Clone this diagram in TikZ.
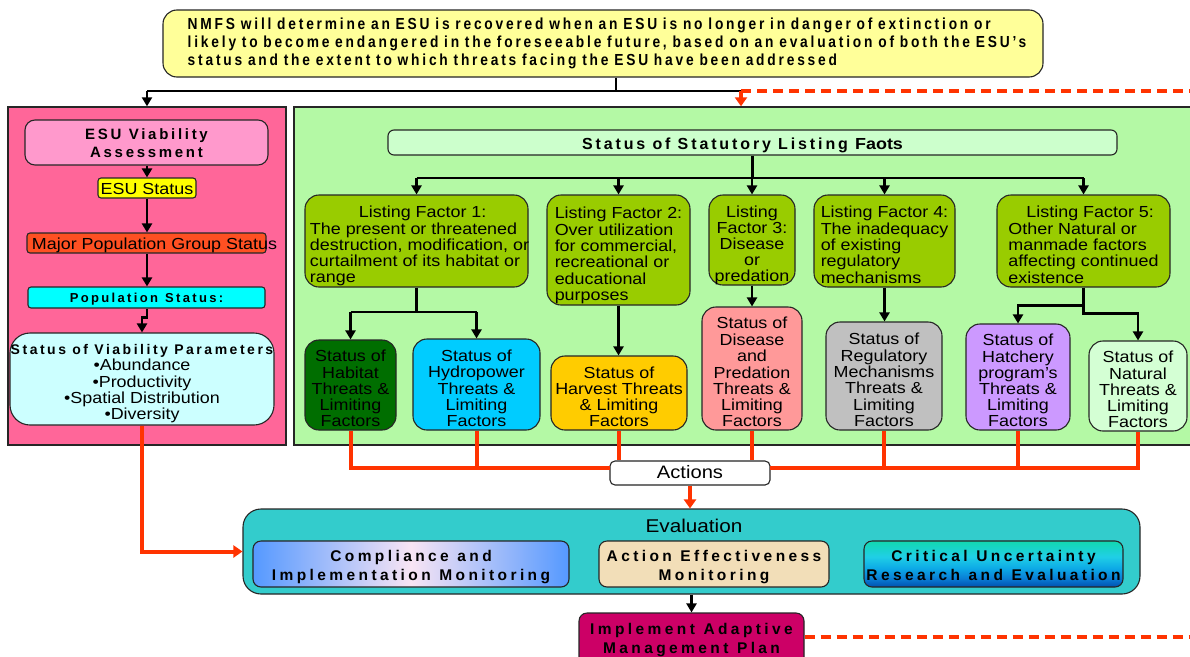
\documentclass[tikz,border=0pt]{standalone}
\usepackage{fontspec}
\setmainfont{Liberation Sans}[FakeStretch=1.12]
\newfontfamily\spcfont{Liberation Sans}[LetterSpace=18]
\newfontfamily\spwide{Liberation Sans}[LetterSpace=22]
\newfontfamily\topfont{Liberation Sans}[FakeStretch=0.86,LetterSpace=17.5]
\usetikzlibrary{arrows.meta}
\definecolor{topyellow}{HTML}{FFFF99}
\definecolor{pinkpanel}{HTML}{FF6699}
\definecolor{lpink}{HTML}{FF99CC}
\definecolor{esuyellow}{HTML}{FFFF00}
\definecolor{mpgred}{HTML}{FF5022}
\definecolor{popcyan}{HTML}{00FFFF}
\definecolor{lcyan}{HTML}{CCFFFF}
\definecolor{greenpanel}{HTML}{B4F9A5}
\definecolor{statgreen}{HTML}{CCFFCC}
\definecolor{lfgreen}{HTML}{99CC00}
\definecolor{habgreen}{HTML}{006E00}
\definecolor{hydroblue}{HTML}{00CCFF}
\definecolor{harvyellow}{HTML}{FFCC00}
\definecolor{dispink}{HTML}{FF9999}
\definecolor{reggray}{HTML}{C0C0C0}
\definecolor{hatpurple}{HTML}{CC99FF}
\definecolor{natgreen}{HTML}{D4FFD4}
\definecolor{redline}{HTML}{FF3300}
\definecolor{evalteal}{HTML}{33CCCC}
\definecolor{compblue}{HTML}{5599FF}
\definecolor{comppink}{HTML}{F8E4F4}
\definecolor{parch}{HTML}{F2DEB8}
\definecolor{curtop}{HTML}{12D8B0}
\definecolor{curmid}{HTML}{20CFE6}
\definecolor{curmid2}{HTML}{0CA8E6}
\definecolor{curmid3}{HTML}{0A80D6}
\definecolor{curbot}{HTML}{0050B0}
\definecolor{implmag}{HTML}{CC0066}
\pgfdeclareverticalshading{curshade}{100bp}{color(0bp)=(curbot); color(25bp)=(curbot); color(35bp)=(curmid3); color(45bp)=(curmid2); color(58bp)=(curmid); color(75bp)=(curtop); color(100bp)=(curtop)}
\newcommand\rg{\fontsize{16}{16}\selectfont}
\newcommand\tb[3][6pt]{\makebox[0pt]{\raisebox{-#1}[\height][\depth]{\begin{tabular}{@{}#2@{}}#3\end{tabular}}}}
\begin{document}
\begin{tikzpicture}[x=1pt,y=-1pt,
  bx/.style={draw=black!85, line width=1.1pt, rounded corners=#1, inner sep=0pt},
  bx/.default=12pt,
  panel/.style={draw=black!85, line width=1.4pt, inner sep=0pt},
  lf/.style={bx=14pt, fill=lfgreen, font=\rg},
  st/.style={bx=14pt, font=\rg},
  wide/.style={font={\spwide\bfseries\fontsize{15.5}{19}\selectfont\spaceskip=0.55em}},
  blk/.style={draw=black, line width=2.2pt},
  blkarrow/.style={blk, -{Triangle[length=9pt,width=10pt]}},
  redl/.style={draw=redline, line width=4pt},
  redarrow/.style={redl, -{Triangle[length=9pt,width=12pt]}},
  reddash/.style={draw=redline, line width=4pt, dash pattern=on 10pt off 6pt}
]
\useasboundingbox (0,0) rectangle (1190,656);
\fill[white] (0,0) rectangle (1190,656);

% top statement
\node[bx=14pt, fill=topyellow, minimum width=880pt, minimum height=67pt,
  font={\topfont\bfseries\fontsize{16}{18}\selectfont\spaceskip=0.36em}] (top) at (603,43.5)
  {\tb[0pt]{l}{\hspace*{8pt}NMFS will determine an ESU is recovered when an ESU is no longer in danger of extinction or\\\hspace*{8pt}likely to become endangered in the foreseeable future, based on an evaluation of both the ESU’s\\\hspace*{8pt}status and the extent to which threats facing the ESU have been addressed}};

% panels
\node[panel, fill=pinkpanel, minimum width=278pt, minimum height=338pt] (pink) at (147,276) {};
\node[panel, fill=greenpanel, minimum width=898pt, minimum height=338pt] (green) at (743,276) {};

% pink panel content
\node[bx=10pt, fill=lpink, minimum width=243pt, minimum height=45pt,
  font={\spcfont\bfseries\fontsize{15}{18}\selectfont\spaceskip=0.5em}] (esuva) at (146.5,142.5) {\tb[2.5pt]{c}{ESU Viability\\Assessment}};
\node[bx=3pt, fill=esuyellow, minimum width=98pt, minimum height=20pt, font=\rg] (esust) at (147,188) {\tb[3pt]{c}{ESU Status}};
\node[bx=3pt, fill=mpgred, minimum width=239pt, minimum height=20pt, font=\rg] (mpgs) at (146.5,243) {\tb[3pt]{c}{\hspace*{16pt}Major Population Group Status}};
\node[bx=3pt, fill=popcyan, minimum width=237pt, minimum height=21pt,
  font={\spcfont\bfseries\fontsize{13}{13}\selectfont\spaceskip=0.55em}] (pops) at (146.5,297.5) {\tb[2pt]{c}{Population Status:}};
\node[bx=20pt, fill=lcyan, minimum width=264pt, minimum height=92pt, font=\rg] (vparm) at (142,379)
  {\tb[5pt]{c}{{\spcfont\bfseries\fontsize{14}{16}\selectfont\spaceskip=0.45em Status of Viability Parameters}\\•Abundance\\•Productivity\\•Spatial Distribution\\•Diversity}};

% green panel content
\node[bx=6pt, fill=statgreen, minimum width=729pt, minimum height=25pt,
  font={\spcfont\bfseries\fontsize{16}{16}\selectfont\spaceskip=0.45em}] (stat) at (752.5,142.5)
  {\tb[4pt]{c}{\hspace*{-20pt}Status of Statutory Listing {\normalfont\bfseries\fontsize{16}{16}\selectfont Faots}}};

\node[lf, minimum width=223pt, minimum height=92pt] (lf1) at (416.5,241)
  {\tb{l}{\hspace*{55pt}Listing Factor 1:\\\hspace*{6pt}The present or threatened\\\hspace*{6pt}destruction, modification, or\\\hspace*{6pt}curtailment of its habitat or\\\hspace*{6pt}range}};
\node[lf, minimum width=143pt, minimum height=110pt] (lf2) at (618.5,250)
  {\tb{l}{Listing Factor 2:\\Over utilization\\for commercial,\\recreational or\\educational\\purposes}};
\node[lf, minimum width=86pt, minimum height=90pt] (lf3) at (752,240)
  {\tb{c}{Listing\\Factor 3:\\Disease\\or\\predation}};
\node[lf, minimum width=141pt, minimum height=92pt] (lf4) at (884.5,241)
  {\tb{l}{Listing Factor 4:\\The inadequacy\\of existing\\regulatory\\mechanisms}};
\node[lf, minimum width=173pt, minimum height=92pt] (lf5) at (1083.5,241)
  {\tb{l}{\hspace*{18pt}Listing Factor 5:\\Other Natural or\\manmade factors\\affecting continued\\existence}};

\node[st, fill=habgreen, minimum width=91pt, minimum height=90pt] (habitat) at (350.5,385)
  {\tb{c}{Status of\\Habitat\\Threats \&\\Limiting\\Factors}};
\node[st, fill=hydroblue, minimum width=127pt, minimum height=91pt] (hydro) at (476.5,384.5)
  {\tb{c}{Status of\\Hydropower\\Threats \&\\Limiting\\Factors}};
\node[st, fill=harvyellow, minimum width=136pt, minimum height=74pt] (harvest) at (619,393)
  {\tb{c}{Status of\\Harvest Threats\\\& Limiting\\Factors}};
\node[st, fill=dispink, minimum width=100pt, minimum height=123pt] (disease) at (752,368.5)
  {\tb{c}{Status of\\Disease\\and\\Predation\\Threats \&\\Limiting\\Factors}};
\node[st, fill=reggray, minimum width=116pt, minimum height=108pt] (regul) at (884,376)
  {\tb{c}{Status of\\Regulatory\\Mechanisms\\Threats \&\\Limiting\\Factors}};
\node[st, fill=hatpurple, minimum width=104pt, minimum height=106pt] (hatch) at (1018,377)
  {\tb{c}{Status of\\Hatchery\\program’s\\Threats \&\\Limiting\\Factors}};
\node[st, fill=natgreen, minimum width=98pt, minimum height=90pt] (natural) at (1138,386)
  {\tb{c}{Status of\\Natural\\Threats \&\\Limiting\\Factors}};

% actions and evaluation
\node[bx=5pt, fill=white, minimum width=160pt, minimum height=24pt, font={\fontsize{18}{18}\selectfont}] (actions) at (690,473) {\tb[2pt]{c}{Actions}};
\node[bx=18pt, fill=evalteal, minimum width=897pt, minimum height=85pt] (eval) at (691.5,551.5) {};
\node[inner sep=0pt, font={\fontsize{18.5}{18}\selectfont}] (evaltxt) at (694,526) {Evaluation};
\node[bx=8pt, wide, left color=compblue, right color=compblue, middle color=comppink, minimum width=316pt, minimum height=46pt] (comp) at (411,564)
  {\tb[3.5pt]{c}{Compliance and\\Implementation Monitoring}};
\node[bx=8pt, wide, fill=parch, minimum width=230pt, minimum height=46pt] (aeff) at (714,564)
  {\tb[3.5pt]{c}{Action Effectiveness\\Monitoring}};
\node[bx=8pt, wide, shading=curshade, minimum width=259pt, minimum height=46pt] (cur) at (993.5,564)
  {\tb[3.5pt]{c}{Critical Uncertainty\\Research and Evaluation}};
\node[bx=8pt, wide, fill=implmag, minimum width=225pt, minimum height=54pt] (impl) at (691.5,640)
  {\tb[0pt]{c}{Implement Adaptive\\Management Plan}};

% top connectors
\coordinate (jA) at (616,91);
\coordinate (jL) at (147,91);
\coordinate (jR) at (741,91);
\coordinate (dEnd) at (1192,91);
\draw[blk] (top.south -| jA) -- (jA);
\draw[blk] (jL) -- (jR);
\draw[blkarrow] (jL) -- (jL |- pink.north);
\draw[reddash] (jR) -- (dEnd);
\draw[redarrow] (jR) -- (jR |- green.north);

% pink chain
\draw[blkarrow] (esuva.south -| esust.north) -- (esust.north);
\draw[blkarrow] (esust.south) -- (esust.south |- mpgs.north);
\draw[blkarrow] (esust.south |- mpgs.south) -- (esust.south |- pops.north);
\draw[blkarrow] (esust.south |- pops.south) -- ++(0,9) -| (vparm.north);
\draw[redarrow] (vparm.south) |- (eval.west);

% listing factors
\coordinate (bus) at (752.5,178);
\draw[blk] (stat.south -| bus) -- (bus);
\draw[blk] (lf1.north |- bus) -- (lf5.north |- bus);
\foreach \n in {lf1,lf2,lf3,lf4,lf5} \draw[blkarrow] (\n.north |- bus) -- (\n.north);

\coordinate (b1) at (416.5,312);
\draw[blk] (lf1.south) -- (b1);
\draw[blk] (habitat.north |- b1) -- (hydro.north |- b1);
\draw[blkarrow] (habitat.north |- b1) -- (habitat.north);
\draw[blkarrow] (hydro.north |- b1) -- (hydro.north);
\draw[blkarrow] (lf2.south) -- (harvest.north -| lf2.south);
\draw[blkarrow] (lf3.south) -- (disease.north);
\draw[blkarrow] (lf4.south) -- (regul.north -| lf4.south);
\draw[blkarrow] (lf5.south) -- ++(0,18) -| (hatch.north);
\draw[blkarrow] (lf5.south) -- ++(0,26) -| (natural.north);

% red to actions
\coordinate (aL) at (610,468);
\coordinate (aR) at (770,468);
\draw[redl] (habitat.south) |- (aL);
\draw[redl] (hydro.south) -- (hydro.south |- aL);
\draw[redl] (harvest.south) -- (harvest.south |- actions.north);
\draw[redl] (disease.south) -- (disease.south |- actions.north);
\draw[redl] (aR) -| (natural.south);
\draw[redl] (regul.south) -- (regul.south |- aR);
\draw[redl] (hatch.south) -- (hatch.south |- aR);
\draw[redarrow] (actions.south) -- (actions.south |- eval.north);

% evaluation to implement
\draw[blkarrow] (eval.south -| impl.north) -- (impl.north);
\coordinate (iEnd) at (1192,637);
\draw[reddash] (impl.east |- iEnd) -- (iEnd);
\end{tikzpicture}
\end{document}
